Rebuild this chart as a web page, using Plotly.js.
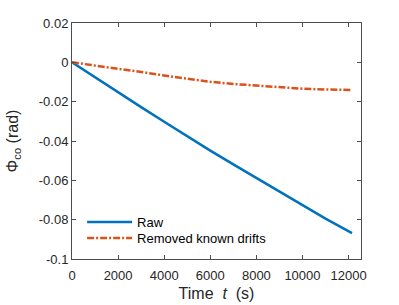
<!DOCTYPE html>
<html>
<head>
<meta charset="utf-8">
<script src="https://cdn.plot.ly/plotly-3.0.1.min.js"></script>
<style>html,body{margin:0;padding:0;background:#fff;}#plot{width:399px;height:305px;}</style>
</head>
<body>
<div id="plot"></div>
<script>
// Time (s)
var tRaw = [0, 1000, 2000, 3000, 4000, 5000, 6000, 7000, 8000, 9000, 10000, 11000, 12150];
var phiRaw = [0, -0.0077, -0.0153, -0.0228, -0.0302, -0.0376, -0.0449, -0.0519, -0.0588, -0.0657, -0.0727, -0.0795, -0.0868];
var tCorr = [0, 1000, 2000, 3000, 4000, 5000, 6000, 7000, 8000, 9000, 10000, 11000, 12150];
var phiCorr = [0, -0.0016, -0.0031, -0.0049, -0.0067, -0.0084, -0.0099, -0.0110, -0.0119, -0.0127, -0.0134, -0.0138, -0.0141];
var seriesNames = ["Raw", "Removed known drifts"];
var xTicks = [0, 2000, 4000, 6000, 8000, 10000, 12000];
var yTicks = [-0.1, -0.08, -0.06, -0.04, -0.02, 0, 0.02];
var yTickText = ["-0.1", "-0.08", "-0.06", "-0.04", "-0.02", "0", "0.02"];

var font = "Liberation Sans, Arial, Helvetica, sans-serif";
var axisCol = "#4d4d4d";
var textCol = "#262626";

var traces = [
  {x: tRaw, y: phiRaw, name: seriesNames[0], mode: "lines", type: "scatter",
   line: {color: "#0072BD", width: 2.5}, legend: "legend"},
  {x: tCorr, y: phiCorr, name: seriesNames[1], mode: "lines", type: "scatter",
   line: {color: "#D95319", width: 2.5, dash: "7px,2px,2px,2px"}, legend: "legend2"}
];

var axisBase = {
  showline: true, linecolor: axisCol, linewidth: 1, mirror: "ticks",
  ticks: "inside", ticklen: 4, tickcolor: axisCol, tickwidth: 1,
  showgrid: false, zeroline: false,
  tickfont: {family: font, size: 13, color: textCol}
};

var legBase = {xanchor: "left", yanchor: "middle",
  bgcolor: "rgba(0,0,0,0)", borderwidth: 0, itemwidth: 45,
  font: {family: font, size: 13, color: "#000"}};

var layout = {
  width: 399, height: 305,
  margin: {l: 72, r: 38, t: 23, b: 46},
  paper_bgcolor: "#fff", plot_bgcolor: "#fff",
  showlegend: true,
  legend: Object.assign({}, legBase, {x: 0.035, y: 0.157}),
  legend2: Object.assign({}, legBase, {x: 0.035, y: 0.089}),
  xaxis: Object.assign({}, axisBase, {
    range: [0, 12540], tickvals: xTicks, ticktext: xTicks.map(String),
    ticklabelstandoff: 4,
    title: {text: "Time\u00a0\u00a0<i>t</i>\u00a0\u00a0(s)", font: {family: font, size: 16, color: textCol}, standoff: 6}
  }),
  yaxis: Object.assign({}, axisBase, {
    range: [-0.1, 0.02], tickvals: yTicks, ticktext: yTickText,
    title: {text: "\u03a6<sub>co</sub> (rad)", font: {family: font, size: 16, color: textCol}, standoff: 16}
  })
};

Plotly.newPlot("plot", traces, layout, {displayModeBar: false, staticPlot: true});
</script>
</body>
</html>
